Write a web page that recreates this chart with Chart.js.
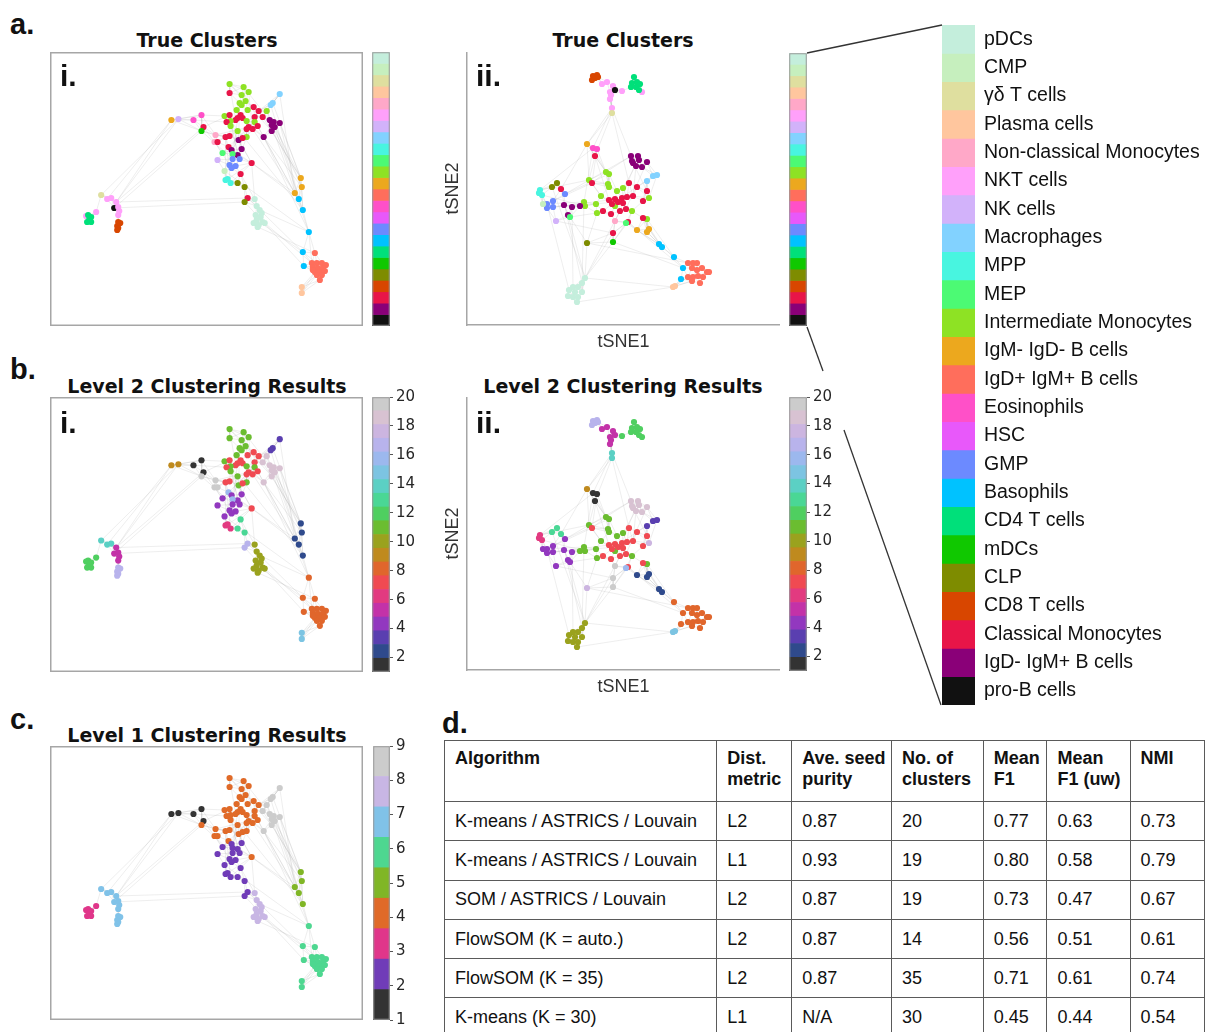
<!DOCTYPE html>
<html lang="en">
<head>
<meta charset="UTF-8">
<title>ASTRICS clustering figure</title>
<script src="https://cdn.jsdelivr.net/npm/chart.js"></script>
<style>
  body { margin: 0; width: 1205px; height: 1032px; overflow: hidden; position: relative; background: #fff;
         font-family: 'Liberation Sans', Arial, sans-serif; color: #111; }
  .letter { position: absolute; font: bold 29px 'Liberation Sans', Arial, sans-serif; line-height: 29px; }
  .roman { position: absolute; font: bold 30px 'Liberation Sans', Arial, sans-serif; line-height: 30px; }
  .ttl { position: absolute; width: 300px; text-align: center; white-space: nowrap;
         font: bold 19px 'DejaVu Sans', sans-serif; line-height: 19px; color: #111; }
  #tbl { position: absolute; left: 444px; top: 740px; border-collapse: collapse; table-layout: fixed;
         font: 18px 'Liberation Sans', Arial, sans-serif; color: #111; }
  #tbl th, #tbl td { border: 1.5px solid #5a5a5a; padding: 0 0 0 10px; text-align: left; white-space: nowrap; }
  #tbl th { vertical-align: top; padding-top: 7px; line-height: 21px; }
  #tbl td { vertical-align: middle; }
</style>
</head>
<body>
<div class="letter" style="left:10px;top:10px">a.</div>
<div class="letter" style="left:10px;top:355px">b.</div>
<div class="letter" style="left:10px;top:705px">c.</div>
<div class="letter" style="left:442px;top:709px">d.</div>
<div class="ttl" style="left:57px;top:31px">True Clusters</div>
<div class="ttl" style="left:473px;top:31px">True Clusters</div>
<div class="ttl" style="left:57px;top:377px">Level 2 Clustering Results</div>
<div class="ttl" style="left:473px;top:377px">Level 2 Clustering Results</div>
<div class="ttl" style="left:57px;top:726px">Level 1 Clustering Results</div>
<table id="tbl"></table>
<script>
// ---- cell types (legend order, top to bottom) ----
const classNames = ['pDCs', 'CMP', 'γδ T cells', 'Plasma cells', 'Non-classical Monocytes', 'NKT cells',
  'NK cells', 'Macrophages', 'MPP', 'MEP', 'Intermediate Monocytes', 'IgM- IgD- B cells',
  'IgD+ IgM+ B cells', 'Eosinophils', 'HSC', 'GMP', 'Basophils', 'CD4 T cells', 'mDCs', 'CLP',
  'CD8 T cells', 'Classical Monocytes', 'IgD- IgM+ B cells', 'pro-B cells'];

const level2Ticks = [2, 4, 6, 8, 10, 12, 14, 16, 18, 20];
const level1Ticks = [1, 2, 3, 4, 5, 6, 7, 8, 9];

// ---- embedding i (panels a.i, b.i, c) ----
const layoutIX = [
  180,180,194,199,192,190,196,192,230,223,221,204,209,198,187,217,175,180,191,188,193,186,205,213,181,177,197,205,181,199,203,208,197,188,197,
  220,224,230,222,225,222,214,189,193,176,180,166,165,168,179,182,192,188,173,183,168,183,190,180,186,182,202,175,191,176,178,181,188,195,198,195,
  205,207,210,206,211,207,213,209,215,204,208,212,
  122,129,144,152,154,152,
  52,58,62,67,65,69,70,69,47,37,39,42,40,38,42,41,69,71,68,69,68,
  251,252,245,249,253,259,253,254,265,262,267,272,276,263,268,273,265,270,275,267,272,270,263,252,252
];
const layoutIY = [
  34,43,37,42,45,53,51,55,44,53,55,57,61,60,60,61,66,65,65,68,68,70,67,67,71,72,71,72,76,77,79,76,79,81,87,
  70,72,73,75,77,81,87,90,88,87,86,85,92,92,97,100,99,105,103,104,110,109,109,115,116,118,113,121,124,130,129,133,133,137,148,152,
  149,156,160,165,167,170,172,175,173,173,177,163,
  70,69,70,65,77,81,
  145,149,148,152,158,157,161,165,162,166,165,167,170,172,172,168,172,173,176,178,180,
  128,137,143,149,160,182,202,216,203,213,213,213,215,217,218,218,222,222,221,225,225,230,220,237,243
];
// true cell type (index into classNames)
const layoutITrue = [
  10,21,10,10,10,10,10,10,7,7,7,21,21,10,10,10,10,21,21,21,21,21,21,21,10,21,10,10,10,21,21,21,21,10,10,
  22,22,22,22,22,22,22,22,21,21,21,4,4,21,21,22,22,22,9,9,6,15,15,15,15,15,21,1,21,8,8,8,19,19,21,19,
  0,0,0,0,0,0,0,0,0,0,0,0,
  11,6,13,13,21,18,
  2,5,5,5,23,5,5,5,5,5,17,17,17,17,17,17,20,20,20,20,20,
  11,11,11,16,16,16,16,16,12,12,12,12,12,12,12,12,12,12,12,12,12,12,12,3,3
];
const layoutILevel2 = [
  11,11,11,11,11,11,11,11,3,3,3,7,7,7,11,19,11,7,7,7,7,7,7,19,11,7,11,11,11,7,7,7,7,11,11,
  19,19,19,19,19,19,19,11,7,7,7,20,20,20,16,4,4,4,4,16,4,4,4,4,4,4,7,4,13,6,6,6,13,13,17,17,
  10,10,10,10,10,10,10,10,10,10,10,10,
  9,9,1,1,1,20,
  14,14,14,5,5,5,5,5,12,12,12,12,12,12,12,12,17,17,17,17,17,
  2,2,2,2,2,8,8,8,8,8,8,8,8,8,8,8,8,8,8,8,8,8,8,15,15
];
const layoutILevel1 = [
  4,4,4,4,4,4,4,4,9,9,9,4,4,4,4,9,4,4,4,4,4,4,4,9,4,4,4,4,4,4,4,4,4,4,4,
  9,9,9,9,9,9,9,4,4,4,4,4,4,4,4,2,2,2,2,2,2,2,2,2,2,2,4,2,2,2,2,2,2,2,2,2,
  8,8,8,8,8,8,8,8,8,8,8,8,
  1,1,1,1,1,4,
  7,7,7,7,7,7,7,7,3,3,3,3,3,3,3,3,7,7,7,7,7,
  5,5,5,5,5,6,6,6,6,6,6,6,6,6,6,6,6,6,6,6,6,6,6,6,6
];
// long-range graph links (point index pairs)
const layoutILinks = [
  [83,90],[83,92],[84,92],[87,92],[88,93],[92,69],[93,70],[84,89],
  [40,110],[41,111],[61,112],[23,110],[37,113],[61,113],[39,114],[41,112],[35,111],[15,110],[9,110],
  [37,110],[36,111],[31,112],[30,113],[24,114],[38,115],[41,115],[62,115],[69,116],[8,112],[10,113],
  [61,71],[63,71],[69,72],[76,116],[79,119],[70,117],[73,115],[81,118],
  [86,16],[87,17],[85,25],[88,44],[83,85],[86,46],[87,47],[88,56],
  [0,40],[2,35],[8,23],[16,61],[42,61],[49,61],[46,29],[53,32],[64,44],[65,61],[56,12],[59,22],
  [0,21],[3,30],[5,42],[12,50],[17,52],[19,60],[26,41],[28,57],[33,62],[44,66],[47,58],[6,39]
];

// ---- embedding ii (panels a.ii, b.ii) ----
const layoutIIX = [
  133,137,132,135,138,142,147,153,150,151,150,152,162,182,155,174,172,177,180,171,176,179,152,
  127,133,137,135,171,178,179,173,176,182,187,172,187,193,197,
  146,149,129,148,149,157,163,141,124,136,125,155,172,137,189,187,
  132,169,177,187,149,155,162,167,173,158,163,152,166,160,143,151,183,183,168,153,
  155,166,177,187,189,92,97,127,
  80,79,82,101,105,93,87,93,87,83,104,112,120,108,110,96,
  153,199,202,214,223,221,228,233,237,232,237,242,247,249,228,233,238,243,232,240,213,215,
  125,122,113,118,109,115,122,108,113,118,117
];
const layoutIIY = [
  26,25,30,28,27,34,32,36,42,45,49,58,41,42,40,27,33,32,34,37,37,40,63,
  94,98,99,106,106,106,110,113,116,117,112,111,131,126,125,
  122,124,130,134,137,141,138,146,152,154,156,156,161,163,148,169,
  133,133,137,141,150,149,148,147,146,152,153,154,159,161,161,164,151,168,172,183,
  171,173,180,182,179,137,133,193,
  140,143,145,139,144,151,154,157,158,154,155,157,156,165,167,171,
  192,194,197,207,218,229,213,213,213,218,220,218,222,222,227,227,226,227,231,233,237,236,
  228,233,237,237,240,242,242,246,247,247,252
];
const layoutIITrue = [
  20,20,20,20,20,5,5,5,5,5,5,5,5,5,23,17,17,17,17,17,17,17,2,
  11,13,13,21,22,22,22,22,22,22,22,22,7,7,7,
  10,10,10,10,10,10,10,10,10,10,10,10,10,10,10,10,
  21,21,21,21,21,21,21,21,21,21,21,21,21,21,21,21,21,21,21,21,
  4,9,11,11,11,19,19,19,
  8,8,8,21,15,15,15,15,15,1,22,22,22,22,9,6,
  18,16,16,16,16,16,12,12,12,12,12,12,12,12,12,12,12,12,12,12,3,3,
  0,0,0,0,0,0,0,0,0,0,0
];
const layoutIILevel2 = [
  17,17,17,17,17,5,5,5,5,5,5,14,12,12,5,12,12,12,12,12,12,12,14,
  9,1,1,1,19,19,19,19,19,19,19,19,3,3,3,
  11,11,11,11,11,11,11,11,11,11,11,11,11,11,18,11,
  7,7,7,7,7,7,7,7,7,7,7,7,7,7,7,7,7,7,7,20,
  20,16,2,2,2,13,13,18,
  6,6,6,13,4,4,4,4,4,4,4,4,11,4,4,4,
  20,2,2,8,8,8,8,8,8,8,8,8,8,8,8,8,8,8,8,8,15,15,
  10,10,10,10,10,10,10,10,10,10,10
];
const layoutIILinks = [
  [22,23],[11,24],[22,26],[11,27],[22,55],[11,23],
  [26,40],[23,85],[25,54],[27,38],[34,57],[35,70],[37,52],
  [23,40],[24,46],[26,58],[28,60],[29,44],[31,62],[33,66],[36,65],[24,82],[27,86],[35,56],
  [79,120],[81,120],[85,121],[95,120],[73,120],[98,123],[93,122],[46,121],[88,124],[67,120],
  [76,99],[78,99],[71,100],[53,101],[81,104],[98,102],[120,118],[130,118],[72,102],[76,100],
  [82,40],[91,46],[96,51],[97,73],[87,54],[94,47],[84,48],[90,58],[89,63],[86,39]
];

// ---- table (panel d) ----
const tableHeader = ['Algorithm', 'Dist.<br>metric', 'Ave. seed<br>purity', 'No. of<br>clusters', 'Mean<br>F1', 'Mean<br>F1 (uw)', 'NMI'];
const algorithms = ['K-means / ASTRICS / Louvain', 'K-means / ASTRICS / Louvain', 'SOM / ASTRICS / Louvain',
  'FlowSOM (K = auto.)', 'FlowSOM (K = 35)', 'K-means (K = 30)'];
const distMetric = ['L2', 'L1', 'L2', 'L2', 'L2', 'L1'];
const seedPurity = ['0.87', '0.93', '0.87', '0.87', '0.87', 'N/A'];
const numClusters = ['20', '19', '19', '14', '35', '30'];
const meanF1 = ['0.77', '0.80', '0.73', '0.56', '0.71', '0.45'];
const meanF1uw = ['0.63', '0.58', '0.47', '0.51', '0.61', '0.44'];
const nmi = ['0.73', '0.79', '0.67', '0.61', '0.74', '0.54'];

// ---- colours ----
const trueColors = ['#c4eedc', '#c6efbe', '#dfdf9f', '#ffc69e', '#ffa8c8', '#ffa0fa', '#d2b2fa', '#82d2ff',
  '#48f5e0', '#4cfa74', '#8ee224', '#eca81e', '#ff6e5c', '#ff50c8', '#e858fa', '#6c8aff', '#00c2ff',
  '#00e07a', '#10c800', '#7e8c00', '#d84600', '#e81548', '#8a0078', '#111111'];
const level2Colors = ['#333333', '#2f4a8c', '#5a3fb0', '#9238bf', '#c332a8', '#e23a80', '#f04a52', '#e0662c',
  '#bf8a1e', '#9aa21e', '#6bbd30', '#4fcf60', '#4ad795', '#5bd0c4', '#7cc4e2', '#9cb8ee', '#b8b3ec',
  '#ccb5e0', '#d8c2d2', '#cccccc'];
const level1Colors = ['#333333', '#703cb8', '#e0368a', '#e06a28', '#80b626', '#4ed790', '#80c2e8', '#c8b6e4', '#cccccc'];

Chart.defaults.font.family = "'Liberation Sans', Arial, sans-serif";

const framePlugin = {
  id: 'frame',
  afterDatasetsDraw(chart, args, opts) {
    if (!opts || !opts.color) return;
    const {ctx, chartArea: a} = chart;
    ctx.save();
    ctx.strokeStyle = opts.color;
    ctx.lineWidth = opts.width || 1;
    ctx.strokeRect(a.left + 0.75, a.top + 0.75, a.width - 1.5, a.height - 1.5);
    ctx.restore();
  }
};

function makeCanvas(left, top, w, h) {
  const c = document.createElement('canvas');
  c.width = w; c.height = h;
  c.style.cssText = `position:absolute;left:${left}px;top:${top}px;width:${w}px;height:${h}px`;
  document.body.appendChild(c);
  return c;
}

// nearest-neighbour graph over the typed points, plus the typed long links
function graphEdges(xs, ys, links, k) {
  const seen = new Set(), out = [];
  const add = (a, b) => {
    const key = a < b ? a + '-' + b : b + '-' + a;
    if (!seen.has(key)) { seen.add(key); out.push([a, b]); }
  };
  xs.forEach((x, i) => {
    xs.map((x2, j) => [j, Math.hypot(x2 - x, ys[j] - ys[i])])
      .filter(d => d[0] !== i)
      .sort((p, q) => p[1] - q[1])
      .slice(0, k)
      .forEach(d => add(i, d[0]));
  });
  links.forEach(([a, b]) => add(a, b));
  return out;
}

function scatterPanel(canvas, xs, ys, labels, colorOf, links, xr, yr, titled) {
  const pts = xs.map((x, i) => ({x: x, y: ys[i]}));
  const edges = [];
  graphEdges(xs, ys, links, 4).forEach(([a, b]) => edges.push(pts[a], pts[b], {x: null, y: null}));
  const titleFont = {family: "'Liberation Sans', Arial, sans-serif", size: 18};
  const ax = {
    display: titled,
    grid: {display: false, drawTicks: false},
    ticks: {display: false},
    border: {display: titled, color: '#a6a6a6', width: 1.5}
  };
  const xScale = Object.assign({}, ax, {min: xr[0], max: xr[1]});
  const yScale = Object.assign({}, ax, {min: yr[0], max: yr[1], reverse: true});
  if (titled) {
    xScale.title = {display: true, text: 'tSNE1', font: titleFont, color: '#333', padding: 2};
    xScale.afterFit = s => { s.height = 30; };
    yScale.title = {display: true, text: 'tSNE2', font: titleFont, color: '#333', padding: 2};
    yScale.afterFit = s => { s.width = 27; };
  }
  return new Chart(canvas, {
    type: 'scatter',
    data: {
      datasets: [
        {data: pts, pointRadius: 3.1, pointHoverRadius: 3.1, pointBackgroundColor: labels.map(colorOf),
         pointBorderWidth: 0, showLine: false},
        {data: edges, showLine: true, spanGaps: false, pointRadius: 0, fill: false,
         borderColor: 'rgba(175,175,175,0.3)', borderWidth: 0.7}
      ]
    },
    options: {
      responsive: false, animation: false, events: [],
      layout: {padding: 0, autoPadding: false},
      plugins: {legend: {display: false}, tooltip: {enabled: false},
                frame: titled ? {} : {color: '#a6a6a6', width: 1.5}},
      scales: {x: xScale, y: yScale}
    },
    plugins: [framePlugin]
  });
}

function colorBar(canvas, colors, lo, hi, ticks, reverse, pad, axisW) {
  const step = (hi - lo) / colors.length;
  return new Chart(canvas, {
    type: 'bar',
    data: {
      labels: [''],
      datasets: colors.map((c, i) => ({
        data: [[lo + i * step, lo + (i + 1) * step]], backgroundColor: c,
        grouped: false, barPercentage: 1, categoryPercentage: 1, borderWidth: 0
      }))
    },
    options: {
      responsive: false, animation: false, events: [],
      layout: {padding: {top: pad, bottom: pad, left: 0, right: 0}, autoPadding: false},
      plugins: {legend: {display: false}, tooltip: {enabled: false}, frame: {color: '#9a9a9a', width: 1}},
      scales: {
        x: {display: false},
        y: {
          display: !!ticks, position: 'right', reverse: reverse, min: lo, max: hi,
          grid: {display: true, drawOnChartArea: false, tickLength: 3, color: '#555'},
          border: {display: false},
          ticks: {font: {family: "'DejaVu Sans', sans-serif", size: 15}, color: '#262626', padding: 3, autoSkip: false},
          afterBuildTicks: s => { if (ticks) s.ticks = ticks.map(v => ({value: v})); },
          afterFit: s => { s.width = axisW; }
        }
      }
    },
    plugins: [framePlugin]
  });
}

const trueOf = c => trueColors[c];
const l2Of = c => level2Colors[c - 1];
const l1Of = c => level1Colors[c - 1];
const rangeIX = [1, 313], rangeIY = [2, 276];
const rangeIIX = [7, 320], rangeIIY = [2, 275];

// a. true clusters
scatterPanel(makeCanvas(50, 52, 313, 274), layoutIX, layoutIY, layoutITrue, trueOf, layoutILinks, rangeIX, rangeIY, false);
colorBar(makeCanvas(372, 52, 18, 274), trueColors, 0, 24, null, true, 0, 0);
scatterPanel(makeCanvas(440, 52, 340, 303), layoutIIX, layoutIIY, layoutIITrue, trueOf, layoutIILinks, rangeIIX, rangeIIY, true);
colorBar(makeCanvas(789, 53, 18, 273), trueColors, 0, 24, null, true, 0, 0);

// b. level 2
scatterPanel(makeCanvas(50, 397, 313, 275), layoutIX, layoutIY, layoutILevel2, l2Of, layoutILinks, rangeIX, rangeIY, false);
colorBar(makeCanvas(372, 383, 58, 303), level2Colors, 1, 20, level2Ticks, false, 14, 40);
scatterPanel(makeCanvas(440, 397, 340, 303), layoutIIX, layoutIIY, layoutIILevel2, l2Of, layoutIILinks, rangeIIX, rangeIIY, true);
colorBar(makeCanvas(789, 383, 58, 302), level2Colors, 1, 20, level2Ticks, false, 14, 40);

// c. level 1
scatterPanel(makeCanvas(50, 746, 313, 274), layoutIX, layoutIY, layoutILevel1, l1Of, layoutILinks, rangeIX, rangeIY, false);
colorBar(makeCanvas(373, 732, 57, 302), level1Colors, 1, 9, level1Ticks, false, 14, 40);

// legend of cell types
new Chart(makeCanvas(942, 3, 263, 724), {
  type: 'bar',
  data: {
    labels: [''],
    datasets: classNames.map((n, i) => ({
      label: n, data: [[i, i + 1]], backgroundColor: trueColors[i],
      grouped: false, barPercentage: 1, categoryPercentage: 1, borderWidth: 0
    }))
  },
  options: {
    responsive: false, animation: false, events: [],
    layout: {padding: {top: 22, bottom: 22, left: 0, right: 0}, autoPadding: false},
    plugins: {legend: {display: false}, tooltip: {enabled: false}},
    scales: {
      x: {display: false},
      y: {
        position: 'right', reverse: true, min: 0, max: 24,
        grid: {display: false, drawTicks: false}, border: {display: false},
        ticks: {font: {family: "'Liberation Sans', Arial, sans-serif", size: 19.5}, color: '#111', padding: 9,
                autoSkip: false, callback: (v, i) => classNames[i]},
        afterBuildTicks: s => { s.ticks = classNames.map((n, i) => ({value: i + 0.5})); },
        afterFit: s => { s.width = 230; }
      }
    }
  }
});

// d. results table
const tbl = document.getElementById('tbl');
const colWidths = [276, 77, 101, 94, 65, 85, 80];
let html = '<colgroup>' + colWidths.map(w => `<col style="width:${w}px">`).join('') + '</colgroup>';
html += '<tr style="height:61px">' + tableHeader.map(h => `<th>${h}</th>`).join('') + '</tr>';
algorithms.forEach((a, i) => {
  const row = [a, distMetric[i], seedPurity[i], numClusters[i], meanF1[i], meanF1uw[i], nmi[i]];
  html += '<tr style="height:39.3px">' + row.map(v => `<td>${v}</td>`).join('') + '</tr>';
});
tbl.innerHTML = html;
</script>
<div class="roman" style="left:60px;top:61px">i.</div>
<div class="roman" style="left:476px;top:61px">ii.</div>
<div class="roman" style="left:60px;top:408px">i.</div>
<div class="roman" style="left:476px;top:408px">ii.</div>
<svg width="1205" height="1032" style="position:absolute;left:0;top:0;pointer-events:none">
  <line x1="807" y1="53" x2="942" y2="25" stroke="#333" stroke-width="1.3"/>
  <line x1="807" y1="327" x2="823" y2="371" stroke="#333" stroke-width="1.3"/>
  <line x1="844" y1="430" x2="941" y2="705" stroke="#333" stroke-width="1.3"/>
</svg>
</body>
</html>
